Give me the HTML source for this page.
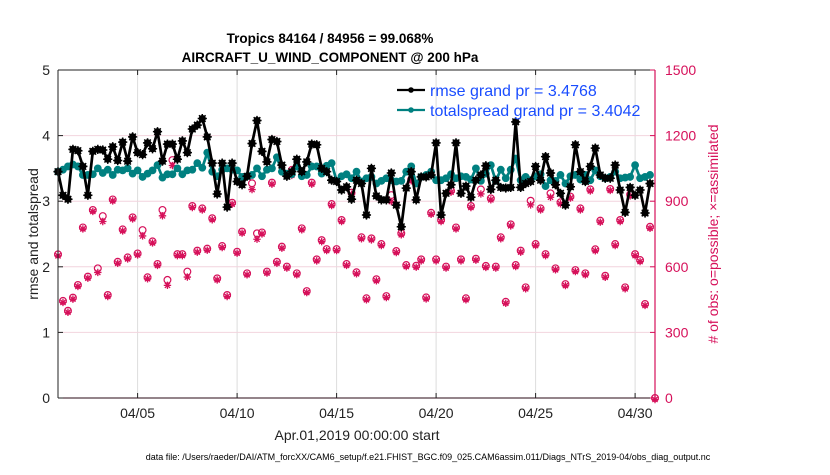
<!DOCTYPE html>
<html><head><meta charset="utf-8"><style>
body{margin:0;background:#fff;width:830px;height:470px;overflow:hidden;font-family:"Liberation Sans",Arial,sans-serif}
svg text{font-family:"Liberation Sans",Arial,sans-serif}
</style></head><body>
<svg id="c" width="830" height="470"></svg>
<script>
const rmse=[3.45,3.09,3.03,3.79,3.77,3.53,3.09,3.76,3.79,3.78,3.64,3.83,3.62,3.90,3.61,3.98,3.74,3.71,3.89,3.80,4.06,3.61,3.87,3.87,3.64,3.92,3.74,4.10,4.16,4.26,3.98,3.58,3.11,3.58,2.91,3.58,3.30,3.25,3.38,3.88,4.23,3.76,3.60,3.94,3.91,3.55,3.38,3.45,3.64,3.45,3.60,3.87,3.86,3.50,3.45,3.32,3.30,3.17,3.22,3.03,3.32,3.27,2.79,3.50,3.08,3.02,3.02,3.43,2.94,2.61,3.20,3.45,3.02,3.37,3.37,3.40,3.89,2.79,3.12,3.25,3.89,3.12,3.23,3.06,3.32,3.40,3.54,3.18,3.32,3.21,3.20,3.21,4.21,3.21,3.27,3.30,3.53,3.32,3.68,3.43,3.25,3.12,2.94,3.22,3.86,3.45,3.30,3.53,3.81,3.40,3.35,3.35,3.55,3.17,2.83,3.21,3.09,3.17,2.82,3.27,null];
const spread=[3.45,3.48,3.53,3.56,3.53,3.40,3.40,3.41,3.50,3.43,3.48,3.40,3.48,3.47,3.50,3.42,3.47,3.37,3.42,3.47,3.55,3.36,3.41,3.41,3.50,3.41,3.47,3.48,3.58,3.51,3.74,3.45,3.38,3.48,3.50,3.48,3.47,3.37,3.38,3.40,3.50,3.38,3.48,3.50,3.67,3.45,3.42,3.41,3.53,3.38,3.40,3.53,3.53,3.42,3.54,3.58,3.31,3.38,3.41,3.35,3.45,3.30,3.35,3.37,3.27,3.31,3.35,3.32,3.30,3.31,3.45,3.53,3.27,3.37,3.40,3.45,3.32,3.32,3.35,3.41,3.35,3.38,3.37,3.33,3.50,3.31,3.42,3.55,3.31,3.48,3.35,3.48,3.65,3.32,3.37,3.32,3.38,3.41,3.23,3.32,3.31,3.40,3.27,3.38,3.40,3.33,3.40,3.32,3.47,3.38,3.35,3.37,3.45,3.35,3.36,3.37,3.55,3.35,3.37,3.40,null];
const obsPossible=[657,444,399,459,517,780,555,860,593,832,471,908,623,771,643,826,661,768,552,716,613,860,540,1088,658,658,578,878,674,867,683,822,547,695,471,893,669,761,570,982,753,757,578,985,623,692,601,1043,570,776,489,985,634,722,681,887,681,814,613,939,575,735,456,730,543,704,466,928,672,753,608,1000,605,634,460,847,634,814,601,948,780,634,456,878,637,954,604,913,601,735,440,794,608,674,506,902,704,867,658,936,593,895,521,921,585,867,570,954,680,811,559,956,704,814,506,931,658,631,430,783,0];
const obsAssim=[657,444,399,459,517,780,555,860,581,814,471,908,623,771,643,826,661,748,552,716,613,840,522,1070,658,658,560,878,674,867,683,822,547,695,471,893,669,761,570,960,733,757,578,985,623,692,601,1025,570,776,489,985,634,722,681,887,681,814,613,939,575,735,456,730,543,704,466,905,672,753,608,1000,605,634,460,847,634,814,601,948,780,634,456,878,637,940,604,913,601,735,440,794,608,674,506,890,704,867,658,925,593,895,521,921,585,867,570,954,680,811,559,956,704,814,506,931,658,631,430,783,0];
const xTickDays=[4,9,14,19,24,29];
const xTickLabels=["04/05","04/10","04/15","04/20","04/25","04/30"];
const yTicks=[0,1,2,3,4,5];
const y2Ticks=[0,300,600,900,1200,1500];

const NS="http://www.w3.org/2000/svg";
const svg=document.getElementById('c');
const L=58,R=655,T=70,B=398;
const xs=t=>L+(t/30)*(R-L);
const ys=v=>B-(v/5)*(B-T);
const y2s=v=>B-(v/1500)*(B-T);
const PINK="#d6105a";
function mk(tag,attrs,parent){const e=document.createElementNS(NS,tag);for(const k in attrs)e.setAttribute(k,attrs[k]);(parent||svg).appendChild(e);return e;}

const grid=mk('g',{});


xTickDays.forEach(d=>{mk('line',{x1:xs(d),x2:xs(d),y1:T,y2:B,stroke:'#dcdcdc','stroke-width':1},grid);});
yTicks.slice(1,5).forEach(v=>{mk('line',{x1:L,x2:R,y1:ys(v),y2:ys(v),stroke:'#f2d4de','stroke-width':1},grid);});

const og=mk('g',{});


obsPossible.forEach((v,i)=>{const c=mk('circle',{cx:xs(i*0.25),cy:y2s(v),r:3.4,fill:'none',stroke:PINK,'stroke-width':1.2},og);

});
obsAssim.forEach((v,i)=>{const x=xs(i*0.25),y=y2s(v)+1.5;const s=3.7;
const p=mk('path',{d:`M${x-s} ${y}H${x+s}M${x} ${y-s}V${y+s}M${x-s*.7} ${y-s*.7}L${x+s*.7} ${y+s*.7}M${x-s*.7} ${y+s*.7}L${x+s*.7} ${y-s*.7}`,stroke:PINK,'stroke-width':1.3},og);

});

function series(vals,color,name,star){
 const g=mk('g',{});
 
 
 let d='';vals.forEach((v,i)=>{if(v==null)return;d+=(d?'L':'M')+xs(i*0.25).toFixed(1)+' '+ys(v).toFixed(1);});
 mk('path',{d:d,fill:'none',stroke:color,'stroke-width':2.7,'stroke-linejoin':'round'},g);
 vals.forEach((v,i)=>{if(v==null)return;const x=xs(i*0.25),y=ys(v);
  if(star){mk('circle',{cx:x,cy:y,r:3.6,fill:color},g);
   mk('path',{d:`M${x-4.6} ${y}H${x+4.6}M${x} ${y-4.6}V${y+4.6}M${x-3.3} ${y-3.3}L${x+3.3} ${y+3.3}M${x-3.3} ${y+3.3}L${x+3.3} ${y-3.3}`,stroke:color,'stroke-width':1.5},g);}
  else mk('circle',{cx:x,cy:y,r:3.9,fill:color},g);});
}
series(spread,'#008080','totalspread-series',false);
series(rmse,'#000000','rmse-series',true);

mk('line',{x1:L,x2:R,y1:B,y2:B,stroke:'#2a0a14','stroke-width':1});
mk('line',{x1:L,x2:L,y1:T,y2:B,stroke:'#222','stroke-width':1});
mk('line',{x1:L,x2:R,y1:T,y2:T,stroke:'#222','stroke-width':1});
mk('line',{x1:R,x2:R,y1:T,y2:B,stroke:PINK,'stroke-width':1.2});
function txt(s,attrs,name){const e=mk('text',attrs);e.textContent=s;return e;}
xTickDays.forEach((d,i)=>{mk('line',{x1:xs(d),x2:xs(d),y1:B,y2:B-5,stroke:'#222'});mk('line',{x1:xs(d),x2:xs(d),y1:T,y2:T+5,stroke:'#222'});
 txt(xTickLabels[i],{x:xs(d),y:B+20,'font-size':14,'text-anchor':'middle',fill:'#222'},'x-tick-label');});
yTicks.forEach(v=>{mk('line',{x1:L,x2:L+5,y1:ys(v),y2:ys(v),stroke:'#222'});
 txt(String(v),{x:L-8,y:ys(v)+5,'font-size':14,'text-anchor':'end',fill:'#222'},'y-tick-label');});
y2Ticks.forEach(v=>{mk('line',{x1:R,x2:R-5,y1:y2s(v),y2:y2s(v),stroke:PINK});
 txt(String(v),{x:R+10,y:y2s(v)+5,'font-size':14,'text-anchor':'start',fill:PINK},'y2-tick-label');});

txt('Tropics 84164 / 84956 = 99.068%',{x:330,y:43,'font-size':13.5,'font-weight':'bold','text-anchor':'middle',fill:'#000'},'chart-title');
txt('AIRCRAFT_U_WIND_COMPONENT @ 200 hPa',{x:330,y:62,'font-size':13.5,'font-weight':'bold','text-anchor':'middle',fill:'#000'},'chart-subtitle');
txt('Apr.01,2019 00:00:00 start',{x:357,y:440,'font-size':14,'text-anchor':'middle',fill:'#222'},'x-axis-title');
txt('rmse and totalspread',{x:0,y:0,'font-size':14,'text-anchor':'middle',fill:'#222',transform:'translate(38,234) rotate(-90)'},'y-axis-title');
txt('# of obs: o=possible; \u00d7=assimilated',{x:0,y:0,'font-size':14,'text-anchor':'middle',fill:PINK,transform:'translate(718,234) rotate(-90)'},'y2-axis-title');
txt('data file: /Users/raeder/DAI/ATM_forcXX/CAM6_setup/f.e21.FHIST_BGC.f09_025.CAM6assim.011/Diags_NTrS_2019-04/obs_diag_output.nc',{x:428,y:460,'font-size':9,'text-anchor':'middle',fill:'#000'},'data-file-note');

const lg=mk('g',{});


mk('line',{x1:397,x2:425,y1:90,y2:90,stroke:'#000','stroke-width':2.2},lg);
mk('circle',{cx:411,cy:90,r:2.8,fill:'#000'},lg);
mk('line',{x1:397,x2:425,y1:110,y2:110,stroke:'#008080','stroke-width':2.2},lg);
mk('circle',{cx:411,cy:110,r:2.8,fill:'#008080'},lg);
const l1=txt('rmse grand pr = 3.4768',{x:430,y:96,'font-size':16,fill:'#1a4dff'},'legend-entry-rmse');
l1.parentNode.removeChild(l1);lg.appendChild(l1);
const l2=txt('totalspread grand pr = 3.4042',{x:430,y:116,'font-size':16,fill:'#1a4dff'},'legend-entry-totalspread');
l2.parentNode.removeChild(l2);lg.appendChild(l2);
</script>
</body></html>
